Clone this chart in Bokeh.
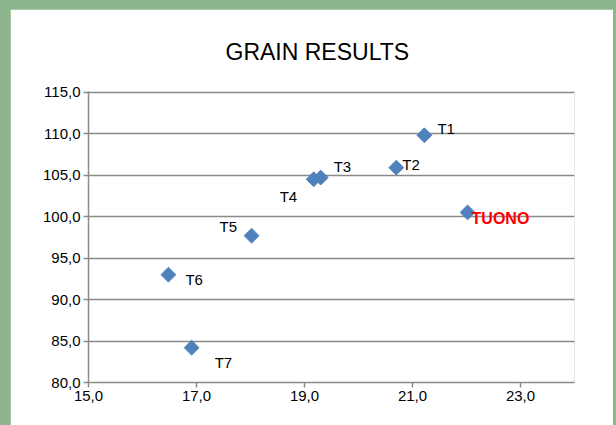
import math
from bokeh.plotting import figure
from bokeh.models import Range1d, FixedTicker, CustomJSTickFormatter, ColumnDataSource
from bokeh.layouts import column
from bokeh.core.properties import value
from bokeh.embed import file_html
from bokeh.resources import INLINE

# ---- data ----
names = ["T1", "T2", "T3", "T4", "T5", "T6", "T7", "TUONO"]
grain_x = [21.22, 20.70, 19.30, 19.17, 18.02, 16.48, 16.91, 22.02]
grain_y = [109.8, 105.9, 104.7, 104.5, 97.7, 93.0, 84.2, 100.5]
x_ticks = [15, 17, 19, 21, 23]
y_ticks = [80, 85, 90, 95, 100, 105, 110, 115]

# ---- label placement (presentation only) ----
label_dx = [13, 6, 13, -34, -32, 17, 23, 4]
label_dy = [-7, -3, -11, 17, -9, 5, 15, 6]

FONT = "Liberation Sans"
GRID = "#8a8a8a"

p = figure(width=603, height=416,
           x_range=Range1d(15, 24), y_range=Range1d(80, 115.08),
           output_backend="svg", toolbar_location=None,
           min_border_left=78, min_border_right=39,
           min_border_top=82, min_border_bottom=43,
           title="GRAIN RESULTS")

p.title.text_font = FONT
p.title.text_font_size = "23px"
p.title.text_font_style = "normal"
p.title.text_color = "#000000"
p.title.align = "left"
p.title.offset = 137
p.title.standoff = 54

p.outline_line_color = None
p.background_fill_color = "white"
p.border_fill_color = "white"

fmt = CustomJSTickFormatter(code="return tick.toFixed(1).replace('.', ',');")
for ax, ticks in ((p.xaxis[0], x_ticks), (p.yaxis[0], y_ticks)):
    ax.ticker = FixedTicker(ticks=ticks)
    ax.formatter = fmt
    ax.axis_line_color = GRID
    ax.axis_line_width = 1.5
    ax.major_tick_line_color = GRID
    ax.major_tick_line_width = 1.5
    ax.major_tick_out = 5
    ax.major_tick_in = 0
    ax.minor_tick_line_color = None
    ax.major_label_text_font = FONT
    ax.major_label_text_font_size = "15px"
    ax.major_label_text_color = "#000000"
    ax.major_label_standoff = 3

p.xgrid.visible = False
p.ygrid.ticker = FixedTicker(ticks=y_ticks)
p.ygrid.grid_line_color = GRID
p.ygrid.grid_line_width = 1.5

src = ColumnDataSource(dict(x=grain_x, y=grain_y, name=names))
p.scatter("x", "y", source=src, marker="square", angle=math.pi / 4, size=10.5,
          fill_color="#4F81BD", line_color="#4F81BD")

normal_idx = [i for i, n in enumerate(names) if n != "TUONO"]
bold_idx = [i for i, n in enumerate(names) if n == "TUONO"]

def sub(idx):
    return ColumnDataSource(dict(x=[grain_x[i] for i in idx], y=[grain_y[i] for i in idx],
                                 name=[names[i] for i in idx],
                                 dx=[label_dx[i] for i in idx], dy=[label_dy[i] for i in idx]))

p.text("x", "y", text="name", source=sub(normal_idx), x_offset="dx", y_offset="dy",
       text_font=value(FONT), text_font_size="15px", text_color="#000000",
       text_align="left", text_baseline="middle")
p.text("x", "y", text="name", source=sub(bold_idx), x_offset="dx", y_offset="dy",
       text_font=value(FONT), text_font_size="16px", text_font_style="bold",
       text_color="#FF0000", text_align="left", text_baseline="middle")

layout = column(p, styles={"background-color": "#8EB68E", "padding": "9px 3px 0px 10px"})

open("out.html", "w").write(file_html(layout, INLINE))
